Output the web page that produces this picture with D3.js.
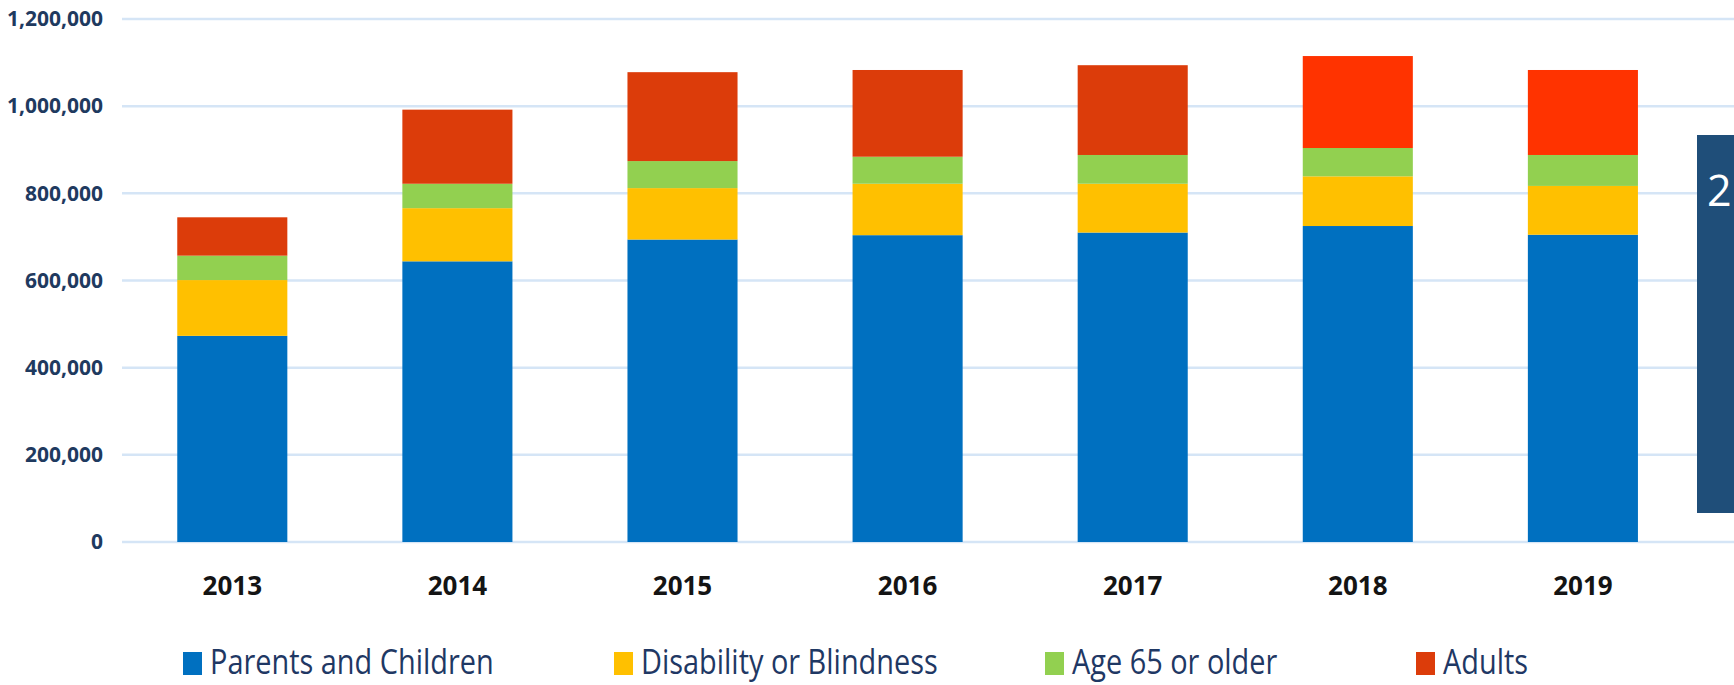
<!DOCTYPE html>
<html>
<head>
<meta charset="utf-8">
<script src="https://cdn.jsdelivr.net/npm/d3@7"></script>
<style>
  html, body { margin: 0; padding: 0; background: #ffffff; }
  svg { display: block; }
</style>
</head>
<body>
<svg id="chart" width="1734" height="685"></svg>
<script>
// ---- data ----
const years = ["2013", "2014", "2015", "2016", "2017", "2018", "2019"];
const seriesNames = ["Parents and Children", "Disability or Blindness", "Age 65 or older", "Adults"];
const parentsChildren = [473000, 644000, 694000, 704000, 710000, 725000, 705000];
const disabilityBlindness = [128000, 122000, 118000, 118000, 112000, 114000, 112000];
const age65Older = [56000, 56000, 62000, 62000, 66000, 65000, 71000];
const adults = [88000, 170000, 204000, 199000, 206000, 211000, 195000];
const yTicks = [0, 200000, 400000, 600000, 800000, 1000000, 1200000];

// ---- styles ----
const colors = ["#0070C0", "#FFC000", "#92D050", "#DC3C0A"];
const brightAdultYears = new Set(["2018", "2019"]);
const brightAdultColor = "#FF3300";

const svg = d3.select("#chart");

const rows = years.map((y, i) => ({
  year: y,
  "Parents and Children": parentsChildren[i],
  "Disability or Blindness": disabilityBlindness[i],
  "Age 65 or older": age65Older[i],
  "Adults": adults[i]
}));
const stacked = d3.stack().keys(seriesNames)(rows);

const x = d3.scaleBand().domain(years).range([119.75, 1695.45])
  .paddingInner(0.511).paddingOuter(0.2555);
const y = d3.scaleLinear().domain([0, 1200000]).range([542, 19]);

// gridlines
svg.append("g").selectAll("line").data(yTicks).join("line")
  .attr("x1", 122).attr("x2", 1734)
  .attr("y1", d => y(d)).attr("y2", d => y(d))
  .attr("stroke", "#D5E5F6").attr("stroke-width", 2.5);

// y axis labels
const yAxis = d3.axisLeft(y).tickValues(yTicks).tickFormat(d3.format(",")).tickSize(0).tickPadding(0);
const yg = svg.append("g").attr("transform", "translate(103,0)").call(yAxis);
yg.select(".domain").remove();
yg.selectAll("text")
  .attr("font-family", "'Open Sans', sans-serif")
  .attr("font-weight", 700)
  .attr("font-size", 21)
  .attr("fill", "#1F3A5F");

// bars
svg.append("g").selectAll("g").data(stacked).join("g")
  .each(function(series, si) {
    d3.select(this).selectAll("rect").data(series).join("rect")
      .attr("x", d => x(d.data.year))
      .attr("width", x.bandwidth())
      .attr("y", d => y(d[1]))
      .attr("height", d => y(d[0]) - y(d[1]))
      .attr("fill", d => (si === 3 && brightAdultYears.has(d.data.year)) ? brightAdultColor : colors[si]);
  });

// x axis labels
const xAxis = d3.axisBottom(x).tickSize(0).tickPadding(0);
const xg = svg.append("g").attr("transform", "translate(0,577)").call(xAxis);
xg.select(".domain").remove();
xg.selectAll("text")
  .attr("font-family", "'Open Sans', sans-serif")
  .attr("font-weight", 700)
  .attr("font-size", 26)
  .attr("fill", "#141414");

// legend
const legendX = [183, 614, 1045, 1416];
const legend = svg.append("g").selectAll("g").data(seriesNames).join("g")
  .attr("transform", (d, i) => `translate(${legendX[i]},0)`);
legend.append("rect").attr("x", 0).attr("y", 652).attr("width", 19).attr("height", 23)
  .attr("fill", (d, i) => colors[i]);
legend.append("text")
  .attr("transform", "translate(27,674) scale(0.85,1)")
  .attr("font-family", "'Open Sans', sans-serif")
  .attr("font-size", 34)
  .attr("fill", "#1F3864")
  .text(d => d);

// right-side dark panel (partially visible)
svg.append("rect").attr("x", 1697).attr("y", 135).attr("width", 60).attr("height", 378)
  .attr("fill", "#1F4E79");
svg.append("text").attr("x", 1707).attr("y", 206)
  .attr("font-family", "'Open Sans', sans-serif")
  .attr("font-size", 43)
  .attr("fill", "#ffffff")
  .text("2");
</script>
</body>
</html>
